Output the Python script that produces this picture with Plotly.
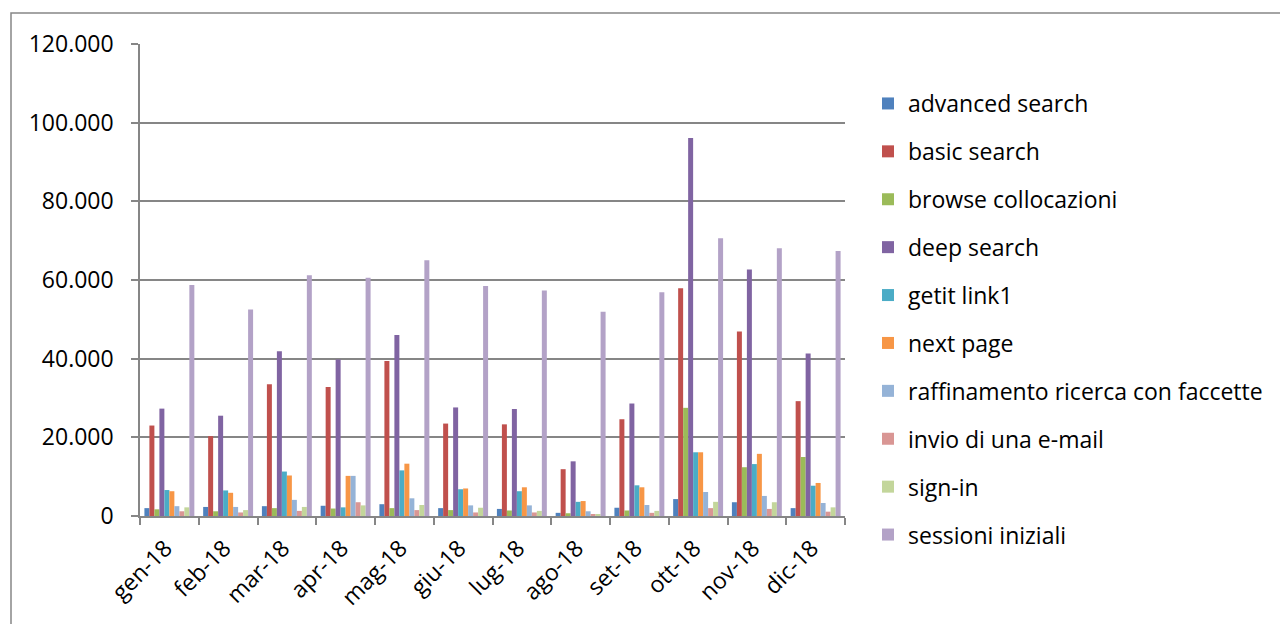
import plotly.graph_objects as go

months = ["gen-18", "feb-18", "mar-18", "apr-18", "mag-18", "giu-18",
          "lug-18", "ago-18", "set-18", "ott-18", "nov-18", "dic-18"]

advanced_search = [2000, 2300, 2500, 2600, 3000, 2000, 1800, 800, 2100, 4300, 3500, 2000]
basic_search = [23000, 20300, 33500, 32800, 39400, 23500, 23300, 11900, 24600, 57900, 46900, 29200]
browse_collocazioni = [1700, 1200, 2000, 1900, 2000, 1500, 1400, 700, 1400, 27500, 12400, 15000]
deep_search = [27300, 25500, 41900, 39800, 46000, 27600, 27200, 13900, 28600, 96100, 62700, 41300]
getit_link1 = [6600, 6500, 11300, 2200, 11600, 6800, 6300, 3600, 7800, 16200, 13200, 7700]
next_page = [6300, 5900, 10300, 10200, 13300, 7000, 7300, 3800, 7300, 16200, 15800, 8400]
raffinamento = [2500, 2300, 4100, 10200, 4500, 2700, 2700, 1200, 2800, 6100, 5100, 3300]
invio_email = [1200, 900, 1300, 3500, 1500, 900, 900, 400, 800, 2000, 1800, 1100]
sign_in = [2200, 1500, 2300, 2700, 2800, 2100, 1300, 400, 1300, 3600, 3500, 2200]
sessioni_iniziali = [58700, 52500, 61200, 60600, 65000, 58500, 57300, 51900, 56900, 70600, 68100, 67400]

series_names = ["advanced search", "basic search", "browse collocazioni", "deep search",
                "getit link1", "next page", "raffinamento ricerca con faccette",
                "invio di una e-mail", "sign-in", "sessioni iniziali"]
series_values = [advanced_search, basic_search, browse_collocazioni, deep_search,
                 getit_link1, next_page, raffinamento, invio_email, sign_in, sessioni_iniziali]
colors = ["#4F81BD", "#C0504D", "#9BBB59", "#8064A2", "#4BACC6",
          "#F79646", "#95B3D7", "#D99694", "#C3D69B", "#B3A2C7"]

y_ticks = [0, 20000, 40000, 60000, 80000, 100000, 120000]

FONT = "Open Sans"
FS = 23

fig = go.Figure()
for i, (name, vals, col) in enumerate(zip(series_names, series_values, colors)):
    fig.add_trace(go.Bar(
        x=months, y=vals, name=name, legendgroup=f"g{i}",
        marker=dict(color=col, line=dict(width=0)),
    ))

# page body has an 8px margin; work in figure coordinates
OFF = 8
W, H = 1288 - OFF, 624 - OFF
L, R, T, B = 140 - OFF, 845 - OFF, 44 - OFF, 516 - OFF
pw, ph = R - L, B - T

fig.update_layout(
    width=W, height=H,
    margin=dict(l=L, r=W - R, t=T, b=H - B, autoexpand=False),
    paper_bgcolor="white", plot_bgcolor="white",
    barmode="group", bargap=0.15, bargroupgap=0,
    separators=",.",
    font=dict(family=FONT, size=FS, color="#000000"),
    showlegend=True,
    legend=dict(
        x=(860 - L) / pw, xanchor="left",
        yref="container", y=1 - 74 / H, yanchor="top",
        traceorder="grouped", tracegroupgap=15,
        font=dict(family=FONT, size=FS, color="#000000"),
        bgcolor="rgba(0,0,0,0)", itemclick=False,
    ),
    xaxis=dict(
        type="category", showgrid=False, showline=True, linecolor="#868686", linewidth=1.5,
        ticks="outside", tickson="boundaries", ticklen=7, tickcolor="#868686", tickwidth=1.5,
        tickangle=-45, tickfont=dict(family=FONT, size=FS),
        ticklabelstandoff=8, ticklabelshift=-4,
    ),
    yaxis=dict(
        range=[0, 120000], tickvals=y_ticks, tickformat=",d",
        showgrid=True, gridcolor="#868686", gridwidth=1.5,
        showline=True, linecolor="#868686", linewidth=1.5,
        ticks="outside", ticklen=7, tickcolor="#868686", tickwidth=1.5,
        ticklabelstandoff=13, zeroline=False,
        tickfont=dict(family=FONT, size=FS),
    ),
)
try:
    fig.update_layout(legend_maxheight=560)
except Exception:
    fig.update_layout(legend=dict(yref="paper", y=1 - (74 - T) / ph, tracegroupgap=13))

# outer chart border
fig.add_shape(type="rect", xref="paper", yref="paper",
              x0=(11 - OFF - L) / pw, x1=(1287 - OFF - L) / pw,
              y0=(B - 640) / ph, y1=(B - (13 - OFF)) / ph,
              line=dict(color="#868686", width=1.5), fillcolor="rgba(0,0,0,0)", layer="below")

fig.write_html("out.html")
